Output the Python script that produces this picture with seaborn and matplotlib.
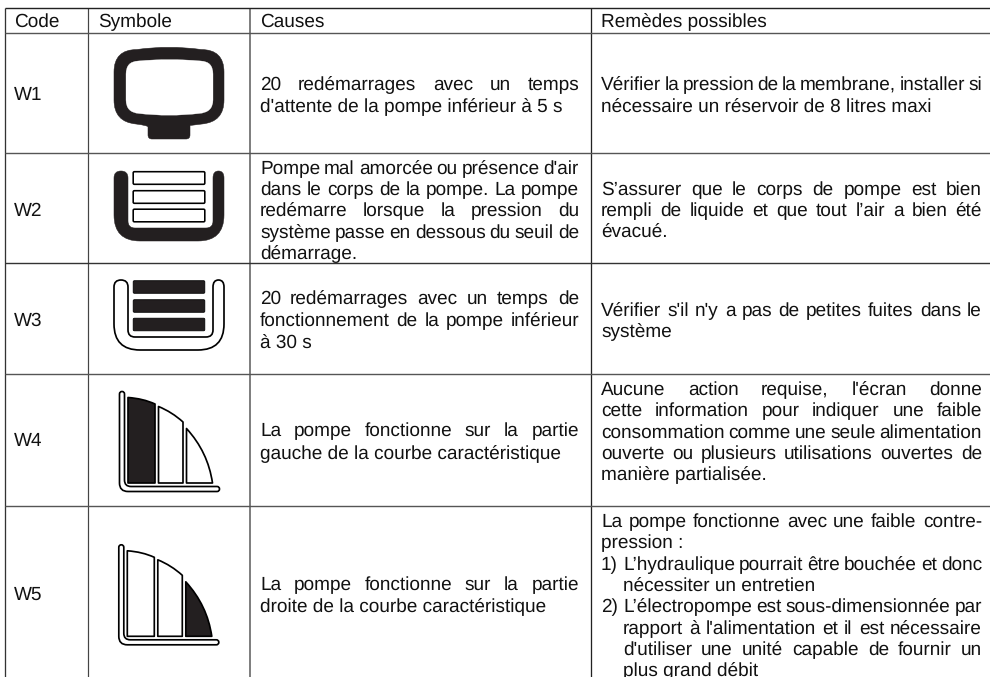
import math
import matplotlib
matplotlib.use("Agg")
import matplotlib.pyplot as plt
import seaborn as sns
from matplotlib.path import Path
from matplotlib.patches import PathPatch, FancyBboxPatch
from matplotlib.font_manager import FontProperties

# ---------- table content ----------
headers = ["Code", "Symbole", "Causes", "Remèdes possibles"]
codes = ["W1", "W2", "W3", "W4", "W5"]
causes = [
    ["20 redémarrages avec un temps", "d'attente de la pompe inférieur à 5 s"],
    ["Pompe mal amorcée ou présence d'air", "dans le corps de la pompe. La pompe",
     "redémarre lorsque la pression du", "système passe en dessous du seuil de", "démarrage."],
    ["20 redémarrages avec un temps de", "fonctionnement de la pompe inférieur", "à 30 s"],
    ["La pompe fonctionne sur la partie", "gauche de la courbe caractéristique"],
    ["La pompe fonctionne sur la partie", "droite de la courbe caractéristique"],
]
remedies = [
    ["Vérifier la pression de la membrane, installer si", "nécessaire un réservoir de 8 litres maxi"],
    ["S’assurer que le corps de pompe est bien", "rempli de liquide et que tout l’air a bien été", "évacué."],
    ["Vérifier s'il n'y a pas de petites fuites dans le", "système"],
    ["Aucune action requise, l'écran donne", "cette information pour indiquer une faible",
     "consommation comme une seule alimentation", "ouverte ou plusieurs utilisations ouvertes de",
     "manière partialisée."],
    ["La pompe fonctionne avec une faible contre-", "pression :"],
]
w5_list = [("1)", ["L’hydraulique pourrait être bouchée et donc", "nécessiter un entretien"]),
           ("2)", ["L’électropompe est sous-dimensionnée par", "rapport à l'alimentation et il est nécessaire",
                   "d'utiliser une unité capable de fournir un", "plus grand débit"])]

# ---------- layout in reference pixels ----------
W, H = 990, 677
col_x = [4.5, 88, 250, 591]
col_col = ["#333333", "#444444", "#808080", "#222222"]
col_lw = [1.3, 1.2, 2.0, 1.3]
row_y = [7.5, 33, 153, 263, 374, 506]
row_col = ["#222222", "#555555", "#555555", "#333333", "#555555", "#555555"]
code_base = [99, 216, 326, 446, 600]
cause_base = [[89, 111], [173, 194.3, 215.7, 237.3, 258.3], [304, 326, 347], [436, 458.5], [590, 611.3]]
rem_base = [[89, 111], [194.3, 215.3, 236.7], [315, 336.7], [394.3, 415.3, 437, 458.7, 479.7], [526.3, 547.3]]
w5_base = [[569, 590.3], [611.3, 633, 654.3, 675.3]]
FS = 13.35
INK = "#111111"

sns.set_theme(style="white")
plt.rcParams["font.family"] = ["Liberation Sans", "DejaVu Sans"]
plt.rcParams["text.hinting"] = "no_hinting"
plt.rcParams["text.hinting_factor"] = 1

fig, ax = plt.subplots(figsize=(W / 100, H / 100), dpi=100)
fig.subplots_adjust(0, 0, 1, 1)
ax.set_xlim(0, W)
ax.set_ylim(H, 0)
ax.set_axis_off()
sns.despine(ax=ax, left=True, bottom=True)

renderer = fig.canvas.get_renderer()
prop = FontProperties(family="Liberation Sans", size=FS)


def width(s):
    return renderer.get_text_width_height_descent(s, prop, False)[0]


def put(x, y, s):
    # Keeps every word of a line on one pixel baseline: the Agg text bitmap is
    # placed by its own ink box, so the offset is compensated word by word.
    _, h, d = renderer.get_text_width_height_descent(s, prop, False)
    yy = round(y + 0.5) + math.floor(h) - math.floor(h - d) - d
    ax.text(x - 1, yy, s, fontproperties=prop, color=INK, ha="left", va="baseline")


def para(lines, bases, x0, x1):
    """Justified paragraph, one word at a time, with the line breaks of the reference."""
    for i, (line, y) in enumerate(zip(lines, bases)):
        words = line.split(" ")
        is_last = i == len(lines) - 1
        if is_last or len(words) == 1:
            put(x0, y, line)
            continue
        gap = (x1 - x0 - sum(width(w) for w in words)) / (len(words) - 1)
        x = x0
        for w in words:
            put(x, y, w)
            x += width(w) + gap


# ---------- grid ----------
for x, c, lw in zip(col_x, col_col, col_lw):
    ax.plot([x, x], [row_y[0], H], color=c, lw=lw * 0.72, solid_capstyle="butt")
for y, c in zip(row_y, row_col):
    ax.plot([col_x[0], W], [y, y], color=c, lw=1.4 * 0.72, solid_capstyle="butt")

# ---------- text ----------
head_x = [15, 99, 261, 602]
for x, h in zip(head_x, headers):
    put(x, 26.6, h)
for c, y in zip(codes, code_base):
    put(15, y, c)
for lines, bases in zip(causes, cause_base):
    para(lines, bases, 261, 580)
for lines, bases in zip(remedies, rem_base):
    para(lines, bases, 602, 983)
for (num, lines), bases in zip(w5_list, w5_base):
    put(602, bases[0], num)
    para(lines, bases, 624, 983)


# ---------- icons ----------
def shape(verts, codes_, fc="white", ec="black", lw=1.5):
    ax.add_patch(PathPatch(Path(verts, codes_), facecolor=fc, edgecolor=ec,
                           lw=lw * 0.72, joinstyle="round", zorder=3))


M, L, C, Z = Path.MOVETO, Path.LINETO, Path.CURVE3, Path.CLOSEPOLY
DARK = "#231f20"


def tv():
    v = [(114, 72), (114, 49.5), (137, 49.5), (169, 45), (201, 49.5), (224, 49.5), (224, 72), (224, 100),
         (224, 122), (202, 124), (190, 125.5), (190, 127), (190, 135), (190, 139), (186, 139), (152, 139), (148, 139),
         (148, 135), (148, 127), (148, 125.5), (136, 124), (114, 122), (114, 100), (114, 72)]
    c = [M, C, C, C, C, C, C, L, C, C, L, C, L, C, C, L, C, C, L, C, L, C, C, Z]
    shape(v, c, fc=DARK, ec=DARK, lw=0.5)
    v = [(126, 74), (126, 61.5), (138, 61), (169, 58), (201, 61), (213, 61.5), (213, 74), (213, 100),
         (213, 112.5), (199, 113.5), (169, 117), (139, 113.5), (126, 112.5), (126, 100), (126, 74)]
    c = [M, C, C, C, C, C, C, L, C, C, C, C, C, C, Z]
    shape(v, c, fc="white", ec="white", lw=0.3)


def cradle(dy, fc, ec, lw):
    v = [(114, 178), (114, 171), (121, 171), (128, 171), (128, 178), (128, 221), (128, 228), (135, 228),
         (206, 228), (213, 228), (213, 221), (213, 178), (213, 171), (218.5, 171), (224, 171), (224, 178),
         (224, 215), (224, 241), (198, 241), (140, 241), (114, 241), (114, 215), (114, 178)]
    c = [M, C, C, C, C, L, C, C, L, C, C, L, C, C, C, C, L, C, C, L, C, C, Z]
    shape([(x, y + dy) for x, y in v], c, fc=fc, ec=ec, lw=lw)


def bars(tops, fc, lw):
    for t in tops:
        ax.add_patch(FancyBboxPatch((134, t + 1), 70, 11, boxstyle="round,pad=0.8,rounding_size=1.2",
                                    facecolor=fc, edgecolor="black", lw=lw * 0.72, zorder=3))


def curve_icon(dx, dy, filled):
    fills = [DARK if i == filled else "white" for i in range(3)]
    v = [(119.5, 394), (119.5, 391.5), (122, 391.5), (124.5, 391.5), (124.5, 394), (124.5, 480), (124.5, 486.5),
         (131, 486.5), (217, 486.5), (219.5, 486.5), (219.5, 489), (219.5, 491.5), (217, 491.5), (128, 491.5),
         (119.5, 491.5), (119.5, 483), (119.5, 394)]
    c = [M, C, C, C, C, L, C, C, L, C, C, C, C, L, C, C, Z]
    shape([(x + dx, y + dy) for x, y in v], c, lw=1.7)
    segs = [
        ([(128, 397.5), (143, 398.5), (155, 404), (155, 483), (128, 483), (128, 397.5)], [M, C, C, L, L, Z]),
        ([(158.5, 406.5), (172, 412), (183, 422), (183, 483), (158.5, 483), (158.5, 406.5)], [M, C, C, L, L, Z]),
        ([(186.5, 428.5), (208, 452), (212.5, 483), (186.5, 483), (186.5, 428.5)], [M, C, C, L, Z]),
    ]
    for (v, c), fc in zip(segs, fills):
        shape([(x + dx, y + dy) for x, y in v], c, fc=fc, lw=1.7)


tv()
cradle(0, DARK, DARK, 0.5)
bars([171.5, 190.5, 209], "white", 1.6)
cradle(109, "white", "black", 1.7)
bars([280.5, 299.5, 318], DARK, 0.8)
curve_icon(0, 0, 0)
curve_icon(-0.7, 153.3, 2)

fig.savefig("out.png", dpi=100)
